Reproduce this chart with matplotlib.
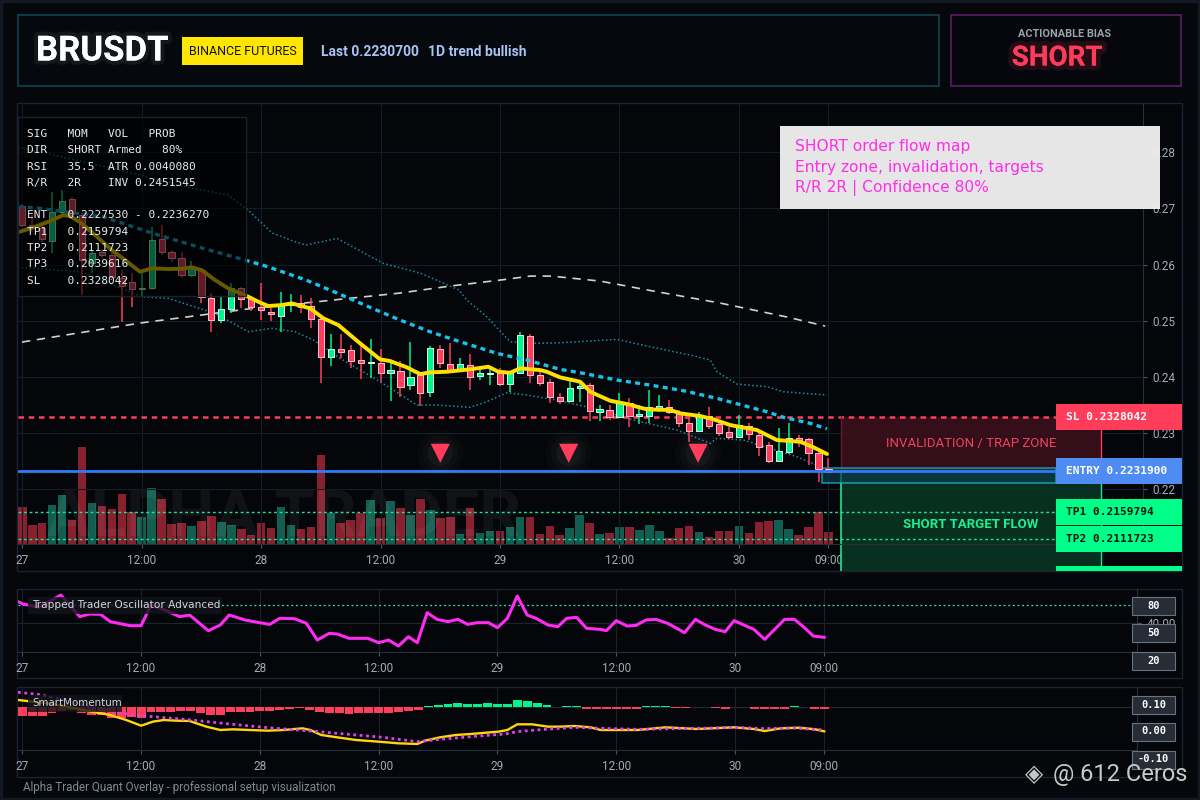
import matplotlib
matplotlib.use("Agg")
import matplotlib.pyplot as plt
import matplotlib.patheffects as pe
from matplotlib.patches import Rectangle
from matplotlib.transforms import Affine2D, blended_transform_factory

plt.rcParams['font.family'] = ['Roboto', 'DejaVu Sans']

# ---------------- data ----------------
hours = list(range(82))
opens = [0.27043, 0.26704, 0.26651, 0.26425, 0.26931, 0.27162, 0.26882, 0.26022, 0.26228, 0.26170,
         0.25760, 0.25683, 0.25558, 0.25576, 0.26449, 0.26218, 0.26111, 0.25813, 0.25902, 0.25398,
         0.25011, 0.25202, 0.25576, 0.25380, 0.25248, 0.25159, 0.25092, 0.25279, 0.25309, 0.25261,
         0.25024, 0.24347, 0.24489, 0.24477, 0.24299, 0.24240, 0.24251, 0.24062, 0.24108, 0.23853,
         0.24031, 0.23734, 0.24489, 0.24227, 0.24120, 0.24210, 0.24019, 0.24056, 0.24062, 0.23871,
         0.24072, 0.24726, 0.24031, 0.23901, 0.23645, 0.23573, 0.23794, 0.23853, 0.23377, 0.23408,
         0.23288, 0.23527, 0.23301, 0.23301, 0.23438, 0.23467, 0.23377, 0.23181, 0.23039, 0.23301,
         0.23153, 0.23010, 0.22932, 0.23128, 0.22962, 0.22784, 0.22504, 0.22665, 0.22903, 0.22886,
         0.22647, 0.22351]
highs = [0.27078, 0.26882, 0.26722, 0.27298, 0.27328, 0.27203, 0.26918, 0.26259, 0.26277, 0.26205,
         0.25902, 0.25849, 0.25854, 0.26674, 0.26704, 0.26259, 0.26228, 0.26063, 0.25938, 0.25487,
         0.25427, 0.25665, 0.25605, 0.25427, 0.25665, 0.25220, 0.25510, 0.25475, 0.25457, 0.25398,
         0.25047, 0.24762, 0.24762, 0.24566, 0.24566, 0.24667, 0.24495, 0.24268, 0.24286, 0.24625,
         0.24085, 0.24548, 0.24566, 0.24607, 0.24334, 0.24406, 0.24169, 0.24169, 0.24151, 0.24085,
         0.24803, 0.24762, 0.24138, 0.23960, 0.23705, 0.23942, 0.23942, 0.23889, 0.23497, 0.23497,
         0.23716, 0.23616, 0.23497, 0.23764, 0.23675, 0.23586, 0.23408, 0.23260, 0.23377, 0.23456,
         0.23230, 0.23099, 0.23319, 0.23171, 0.22998, 0.22843, 0.23082, 0.23171, 0.22962, 0.22914,
         0.22677, 0.22547]
lows = [0.26669, 0.26580, 0.26401, 0.26205, 0.26900, 0.26865, 0.25457, 0.25849, 0.26116, 0.25742,
        0.24976, 0.25248, 0.25427, 0.25555, 0.26170, 0.26045, 0.25760, 0.25778, 0.25309, 0.24803,
        0.24953, 0.25131, 0.25220, 0.25177, 0.25011, 0.24999, 0.24798, 0.25159, 0.25131, 0.24864,
        0.23883, 0.24192, 0.24329, 0.24151, 0.23955, 0.23973, 0.23912, 0.23573, 0.23634, 0.23764,
        0.23479, 0.23634, 0.24156, 0.24085, 0.24085, 0.23764, 0.23942, 0.23853, 0.23835, 0.23728,
        0.24049, 0.23894, 0.23835, 0.23538, 0.23515, 0.23550, 0.23556, 0.23217, 0.23217, 0.23230,
        0.23265, 0.23099, 0.23158, 0.23181, 0.23377, 0.23336, 0.23105, 0.22843, 0.23016, 0.23069,
        0.22944, 0.22886, 0.22909, 0.22873, 0.22588, 0.22458, 0.22481, 0.22624, 0.22754, 0.22428,
        0.22130, 0.22285]
closes = [0.26704, 0.26651, 0.26455, 0.26931, 0.27137, 0.26913, 0.26081, 0.26211, 0.26170, 0.25783,
          0.25617, 0.25558, 0.25576, 0.26432, 0.26218, 0.26111, 0.25808, 0.25933, 0.25416, 0.25011,
          0.25202, 0.25576, 0.25386, 0.25238, 0.25190, 0.25113, 0.25279, 0.25320, 0.25248, 0.25024,
          0.24347, 0.24489, 0.24447, 0.24286, 0.24240, 0.24268, 0.24062, 0.24120, 0.23823, 0.24001,
          0.23716, 0.24507, 0.24240, 0.24120, 0.24227, 0.24001, 0.24062, 0.24062, 0.23871, 0.24062,
          0.24744, 0.24031, 0.23894, 0.23634, 0.23573, 0.23794, 0.23835, 0.23395, 0.23420, 0.23288,
          0.23538, 0.23301, 0.23336, 0.23456, 0.23479, 0.23377, 0.23181, 0.23039, 0.23319, 0.23123,
          0.23003, 0.22932, 0.23140, 0.22980, 0.22754, 0.22504, 0.22677, 0.22903, 0.22873, 0.22647,
          0.22351, 0.22308]
volumes = [37, 19, 21, 39, 49, 24, 97, 41, 38, 35, 50, 32, 27, 56, 45, 20, 21, 18, 23, 28,
           22, 19, 15, 9, 21, 16, 37, 19, 15, 17, 89, 31, 21, 24, 31, 44, 26, 43, 36, 29,
           45, 34, 26, 27, 10, 36, 11, 13, 13, 17, 27, 27, 10, 18, 9, 16, 29, 21, 10, 11,
           17, 17, 14, 19, 13, 6, 16, 18, 12, 7, 13, 13, 18, 11, 22, 23, 24, 15, 9, 17,
           32, 12]

tick_hours = [0, 12, 24, 36, 48, 60, 72, 81]
tick_labels = ["27", "12:00", "28", "12:00", "29", "12:00", "30", "09:00"]
price_ticks = [0.22, 0.23, 0.24, 0.25, 0.26, 0.27, 0.28]

ema_h = [-0.46, 1.28, 2.61, 4.12, 4.79, 5.97, 7.31, 8.98, 10.32, 11.83, 13.0, 14.67, 16.02, 17.03,
         18.03, 19.37, 20.70, 22.71, 23.72, 24.72, 26.07, 27.08, 28.91, 30.25, 31.76, 33.94, 35.95,
         36.95, 38.63, 39.97, 40.97, 42.65, 44.99, 46.83, 47.84, 49.01, 50.02, 52.03, 52.70, 54.04,
         56.05, 57.06, 59.07, 60.74, 62.75, 65.10, 66.10, 68.11, 69.45, 71.13, 73.81, 75.82, 78.16,
         79.50, 80.85]
ema_p = [0.26574, 0.26674, 0.26763, 0.26882, 0.26865, 0.26735, 0.26526, 0.26259, 0.26081, 0.25872,
         0.25933, 0.25920, 0.25926, 0.25951, 0.25902, 0.25724, 0.25576, 0.25427, 0.25337, 0.25261,
         0.25279, 0.25309, 0.25220, 0.25042, 0.24922, 0.24596, 0.24311, 0.24281, 0.24169, 0.24049,
         0.24079, 0.24090, 0.24133, 0.24179, 0.24090, 0.24072, 0.24151, 0.24120, 0.24090, 0.23990,
         0.23912, 0.23734, 0.23573, 0.23515, 0.23420, 0.23408, 0.23349, 0.23301, 0.23242, 0.23140,
         0.23051, 0.22873, 0.22843, 0.22743, 0.22624]
mid_h = [-0.39, 1.58, 8.11, 13.14, 18.16, 22.38, 24.69, 28.51, 31.63, 34.94, 37.96, 40.97, 43.99,
         47.68, 50.69, 54.04, 56.38, 59.74, 63.09, 66.43, 69.79, 73.14, 74.81, 76.48, 79.16, 80.84]
mid_p = [0.27030, 0.27007, 0.26852, 0.26556, 0.26289, 0.26081, 0.25961, 0.25724, 0.25493, 0.25238,
         0.25011, 0.24803, 0.24625, 0.24418, 0.24299, 0.24133, 0.24062, 0.23942, 0.23853, 0.23752,
         0.23616, 0.23456, 0.23377, 0.23278, 0.23171, 0.23074]
upper_h = [-0.43, 9.82, 16.95, 20.67, 22.68, 25.10, 27.41, 28.51, 31.63, 36.25, 40.07, 43.89, 44.66,
           46.67, 49.01, 51.36, 54.04, 59.74, 63.09, 67.10, 69.12, 69.79, 71.80, 74.81, 76.48, 80.84]
upper_p = [0.28094, 0.27684, 0.27364, 0.27239, 0.26972, 0.26562, 0.26407, 0.26348, 0.26467, 0.26022,
           0.25844, 0.25546, 0.25368, 0.25070, 0.24625, 0.24596, 0.24607, 0.24667, 0.24536, 0.24388,
           0.24299, 0.24090, 0.23871, 0.23823, 0.23734, 0.23675]
lower_h = [-0.46, 5.97, 12.0, 14.67, 19.37, 22.71, 25.07, 27.41, 29.25, 31.93, 35.95, 37.29, 39.64,
           41.65, 44.99, 46.67, 48.68, 50.69, 52.70, 54.04, 58.06, 61.41, 65.77, 69.12, 69.79, 72.46,
           75.14, 77.83, 80.16]
lower_p = [0.25950, 0.25872, 0.25427, 0.25398, 0.25131, 0.24803, 0.24864, 0.24803, 0.24655, 0.24329,
           0.23912, 0.23764, 0.23497, 0.23497, 0.23456, 0.23556, 0.23716, 0.23675, 0.23616, 0.23573,
           0.23408, 0.23230, 0.23051, 0.22814, 0.22903, 0.22873, 0.22725, 0.22576, 0.22397]
slow_h = [-0.03, 11.83, 22.58, 31.22, 37.96, 42.98, 48.02, 51.03, 53.14, 58.06, 63.39, 70.12, 76.85, 80.67]
slow_p = [0.24619, 0.24958, 0.25207, 0.25368, 0.25493, 0.25617, 0.25724, 0.25795, 0.25795, 0.25706,
          0.25528, 0.25314, 0.25065, 0.24904]

signal_h = [42.0, 54.9, 67.9]
signal_p = [0.22636, 0.22636, 0.22636]

entry = 0.2231900
stop = 0.2328042
tp1 = 0.2159794
tp2 = 0.2111723
tp3 = 0.2039616
entry_lo, entry_hi = 0.22102, 0.22369

info_lines = ["SIG   MOM   VOL   PROB",
              "DIR   SHORT Armed   80%",
              "RSI   35.5  ATR 0.0040080",
              "R/R   2R    INV 0.2451545",
              "",
              "ENT   0.2227530 - 0.2236270",
              "TP1   0.2159794",
              "TP2   0.2111723",
              "TP3   0.2039616",
              "SL    0.2328042"]
note_lines = ["SHORT order flow map",
              "Entry zone, invalidation, targets",
              "R/R 2R | Confidence 80%"]

osc_h = [-0.43, 0.1, 1.7, 3.9, 5.8, 6.8, 7.9, 8.9, 10.9, 12.0, 13.0, 14.0, 15.9, 16.9, 18.8, 20.0,
         20.9, 22.5, 24.0, 25.0, 26.0, 27.5, 28.7, 29.8, 31.0, 31.8, 33.0, 34.9, 36.0, 37.0, 38.0,
         39.0, 39.9, 40.9, 41.9, 43.0, 44.0, 45.0, 45.9, 47.1, 48.0, 49.0, 50.0, 51.0, 51.9, 53.1,
         54.1, 55.0, 56.0, 57.0, 58.4, 59.0, 60.0, 61.1, 62.0, 63.0, 64.0, 65.2, 66.9, 68.0, 69.0,
         70.0, 71.0, 71.9, 73.9, 75.0, 76.0, 77.0, 78.0, 78.9, 79.9, 81.0]
osc_v = [87.4, 82.2, 74.8, 102.2, 54.1, 60.0, 59.3, 43.0, 34.1, 34.1, 80.0, 72.6, 54.1, 57.8, 22.9,
         35.6, 57.8, 46.7, 40.7, 37.0, 50.4, 49.6, 39.3, 2.2, 17.0, 15.6, 6.0, 6.0, -3.7, 2.2, -11.1,
         9.6, -3.7, 63.0, 48.1, 43.0, 48.1, 37.0, 40.7, 40.7, 29.6, 50.4, 100.0, 57.8, 50.4, 35.6,
         31.9, 50.4, 52.6, 28.1, 25.9, 23.0, 45.2, 33.3, 34.8, 46.7, 48.1, 39.3, 18.5, 48.1, 35.6,
         25.9, 20.7, 45.2, 25.9, 3.7, 25.9, 48.1, 48.1, 31.9, 11.1, 8.2]

mom_hist = [-0.0315, -0.0315, -0.0315, -0.023, -0.0133, -0.011, -0.023, -0.029, -0.029, -0.041,
            -0.041, -0.035, -0.041, -0.017, -0.017, -0.017, -0.0133, -0.0133, -0.0206, -0.029,
            -0.029, -0.017, -0.017, -0.017, -0.0145, -0.0133, -0.011, -0.0073, -0.0036, -0.011,
            -0.0194, -0.023, -0.023, -0.0255, -0.0206, -0.0206, -0.0206, -0.0206, -0.018, -0.0158,
            -0.011, 0.0036, 0.0073, 0.011, 0.0158, 0.011, 0.011, 0.0158, 0.011, 0.011,
            0.0255, 0.0218, 0.0158, 0.0073, 0.0012, 0.0036, 0.0036, -0.0073, -0.0073, -0.0073,
            -0.0073, -0.0073, -0.0061, 0.0024, 0.0036, 0.0036, -0.0024, -0.0024, 0.0012, 0.0012,
            -0.0024, -0.0073, 0.0012, 0.0012, -0.0061, -0.0085, -0.0085, -0.0073, 0.0024, 0.0012,
            -0.0061, -0.0085]
mom_fast_h = [-0.43, 3.1, 7.0, 8.9, 10.5, 12.0, 13.2, 14.3, 15.5, 16.9, 18.6, 20.0, 21.3, 22.9, 24.8,
              26.4, 28.3, 29.1, 30.2, 31.8, 33.7, 36.0, 38.0, 39.9, 40.7, 42.2, 43.8, 45.3, 46.9,
              48.1, 49.0, 50.0, 51.5, 53.1, 54.3, 55.8, 57.4, 58.4, 60.3, 62.2, 65.0, 68.1, 71.9,
              73.9, 75.0, 76.6, 78.5, 80.1, 81.0]
mom_fast_v = [0.0255, 0.0109, -0.017, -0.0291, -0.0473, -0.0679, -0.0533, -0.0473, -0.0497, -0.0509,
              -0.0715, -0.0836, -0.0812, -0.0836, -0.0861, -0.0836, -0.0776, -0.0836, -0.1018, -0.1103,
              -0.12, -0.1261, -0.1321, -0.1345, -0.1224, -0.1103, -0.1018, -0.0982, -0.0933, -0.0897,
              -0.0836, -0.063, -0.063, -0.0715, -0.0715, -0.0691, -0.0739, -0.0836, -0.0836, -0.0836,
              -0.0739, -0.08, -0.0739, -0.08, -0.0873, -0.0776, -0.0752, -0.0812, -0.0885]
mom_slow_h = [-0.43, 1.55, 3.5, 7.4, 11.2, 13.2, 17.1, 20.9, 24.8, 28.7, 32.6, 36.4, 39.9, 42.2,
              46.1, 48.8, 50.0, 51.9, 55.8, 58.4, 62.2, 66.1, 70.0, 71.9, 75.0, 77.8, 81.0]
mom_slow_v = [0.0533, 0.0461, 0.0315, -0.0048, -0.0291, -0.0352, -0.0473, -0.0618, -0.0752, -0.0861,
              -0.0982, -0.1103, -0.1261, -0.1176, -0.1055, -0.0982, -0.0897, -0.0836, -0.0739, -0.0776,
              -0.0812, -0.0788, -0.0764, -0.0739, -0.0788, -0.0764, -0.0836]

# ---------------- style ----------------
BG = "#05070b"
PANEL = "#04060a"
BORDER = "#1a2430"
GRID = "#131d27"
TICK = "#a2abb5"
UP = "#00f58c"
DOWN = "#ff3d5c"
MONO = "DejaVu Sans Mono"
XLIM = (-0.43, 112.6)
YLIM = (0.2102, 0.2888)

W, H = 1200, 800
fig = plt.figure(figsize=(12, 8), dpi=100, facecolor=BG)
PX = Affine2D().scale(1.0 / W, -1.0 / H).translate(0, 1) + fig.transFigure


def frac(x0, y0, x1, y1):
    return [x0 / W, 1 - y1 / H, (x1 - x0) / W, (y1 - y0) / H]


def box(x0, y0, x1, y1, **kw):
    r = Rectangle((x0, y0), x1 - x0, y1 - y0, transform=PX, **kw)
    fig.add_artist(r)
    return r


def ftext(x, y, s, **kw):
    kw.setdefault("va", "center")
    kw.setdefault("zorder", 12)
    return fig.text(x, y, s, transform=PX, **kw)


# panels
box(18, 15, 939, 86, facecolor="#05080c", edgecolor="#0f4453", lw=1.2, zorder=0)
box(951, 15, 1181, 86, facecolor="#05070c", edgecolor="#5a1d66", lw=1.2, zorder=0)
box(17, 103, 1182, 571, facecolor=PANEL, edgecolor=BORDER, lw=1, zorder=0)
box(17, 589, 1182, 678, facecolor=PANEL, edgecolor=BORDER, lw=1, zorder=0)
box(17, 687, 1182, 777, facecolor=PANEL, edgecolor=BORDER, lw=1, zorder=0)
box(1, 1, 1199, 799, facecolor="none", edgecolor="#121922", lw=2.5, zorder=20)
panel_clip = Rectangle((17, 103), 1165, 468, transform=PX)

# header
ftext(36, 51, "BRUSDT", color="white", fontsize=25, fontweight="bold",
      path_effects=[pe.withStroke(linewidth=6, foreground=(1, 1, 1, 0.06))])
box(182, 37, 303, 65, facecolor="#ffe600", edgecolor="none", zorder=11)
ftext(242.5, 51.5, "BINANCE FUTURES", color="#111111", fontsize=9, ha="center")
ftext(321, 52, "Last 0.2230700", color="#a9c3f3", fontsize=10, fontweight="bold")
ftext(427.5, 52, "1D trend bullish", color="#a9c3f3", fontsize=10, fontweight="bold")
ftext(1065, 34, "ACTIONABLE BIAS", color="#9ba4ae", fontsize=7.8, fontweight="bold", ha="center")
ftext(1057, 58, "SHORT", color="#ff3b5c", fontsize=20, fontweight="bold", ha="center",
      path_effects=[pe.withStroke(linewidth=7, foreground=(1, 0.2, 0.35, 0.12))])

# ---------------- main price panel ----------------
ax_vol = fig.add_axes(frac(18, 103, 1143, 544), zorder=1)
ax = fig.add_axes(frac(18, 103, 1143, 544), zorder=2)
for a in (ax, ax_vol):
    a.set_facecolor("none")
    a.set_xlim(*XLIM)

colors = [UP if c >= o else DOWN for o, c in zip(opens, closes)]
vol_colors = ["#125e50" if c == UP else "#88212f" for c in colors]
ax_vol.bar(hours, volumes, width=0.86, color=vol_colors, zorder=1)
ax_vol.set_ylim(0, 441)
ax_vol.axis("off")
ax_vol.text(284, 518, "ALPHA TRADER", transform=PX, ha="center", va="center", fontsize=47,
            fontweight="bold", color="white", alpha=0.05, zorder=3)

ax.set_ylim(*YLIM)
ax.set_axisbelow(True)
ax.grid(True, color=GRID, lw=0.8)
ax.set_xticks(tick_hours, tick_labels)
ax.set_yticks(price_ticks, [f"{p:.2f}" for p in price_ticks])
ax.yaxis.tick_right()
for s in ("top", "left"):
    ax.spines[s].set_visible(False)
for s in ("right", "bottom"):
    ax.spines[s].set_color("#27313c")
ax.tick_params(axis="both", colors="#4a5561", labelcolor=TICK, labelsize=8.5, length=3, pad=4)

ax.plot(upper_h, upper_p, color="#1d8aa6", lw=1.1, ls=(0, (1, 1.6)), zorder=1.5)
ax.plot(lower_h, lower_p, color="#1d8aa6", lw=1.1, ls=(0, (1, 1.6)), zorder=1.5)
ax.plot(slow_h, slow_p, color="#d2d2d2", lw=1.2, ls=(0, (5, 4)), zorder=1.6)
ax.axhline(stop, color="#ff3d5a", lw=1.8, ls=(0, (2.2, 1.9)), zorder=1.8)
ax.axhline(tp1, color="#1ee39a", lw=1, ls=(0, (2, 2)), zorder=1.8)
ax.axhline(tp2, color="#1ee39a", lw=1, ls=(0, (2, 2)), zorder=1.8)

# zones
zx0, zx1 = 82.3, 108.4
red_zone = Rectangle((zx0, entry), zx1 - zx0, stop - entry, facecolor="#3a0f1b", alpha=0.9,
                     edgecolor="none", zorder=1.7)
green_zone = Rectangle((zx0, tp3), zx1 - zx0, entry - tp3, facecolor="#093524", alpha=0.9,
                       edgecolor="none", zorder=1.7)
entry_box = Rectangle((80.35, entry_lo), 103.9 - 80.35, entry_hi - entry_lo, facecolor="#0b3a48",
                      alpha=0.7, edgecolor="#22c4e6", lw=1.1, zorder=2.2)
for p in (red_zone, green_zone, entry_box):
    ax.add_patch(p)
    p.set_clip_path(panel_clip)
edge_lines = [
    ax.plot([zx0, zx0], [entry, stop], color="#6b1c2c", lw=1, zorder=1.9)[0],
    ax.plot([zx0, zx0], [tp3, entry], color="#19e890", lw=1.2, zorder=1.9)[0],
    ax.plot([zx1, zx1], [entry, stop], color="#ff3d5a", lw=1, zorder=1.9)[0],
    ax.plot([zx1, zx1], [tp3, entry], color="#19e890", lw=1, zorder=1.9)[0],
]
for ln in edge_lines:
    ln.set_clip_path(panel_clip)
ax.text(95.3, 0.22820, "INVALIDATION / TRAP ZONE", ha="center", va="center", color="#ee4460",
        fontsize=9.5, zorder=6)
ax.text(95.3, 0.21376, "SHORT TARGET FLOW", ha="center", va="center", color="#19f08f",
        fontsize=9.5, fontweight="bold", zorder=6, clip_on=False)

# candles
bottoms = [min(o, c) for o, c in zip(opens, closes)]
heights = [max(abs(c - o), 0.00012) for o, c in zip(opens, closes)]
edges = ["#d9ffee" if c == UP else "#ffc2cc" for c in colors]
ax.vlines(hours, lows, highs, colors=colors, lw=1.1, zorder=2.6)
ax.bar(hours, heights, bottom=bottoms, width=0.62, color=colors, edgecolor=edges,
       linewidth=0.7, zorder=2.7)

ax.plot(mid_h, mid_p, color="#18c2ea", lw=2.4, ls=(0, (1.5, 1.3)), zorder=4)
ax.plot(ema_h, ema_p, color="#ffe000", lw=2.8, solid_capstyle="round", zorder=5)
ax.axhline(entry, color="#2f7df6", lw=2, zorder=4.5)

for s, a in ((1100, 0.018), (650, 0.025), (330, 0.035)):
    ax.scatter(signal_h, signal_p, s=s, color="white", alpha=a, edgecolors="none", zorder=5.5)
ax.scatter(signal_h, signal_p, s=190, marker="v", color="#ff3d5a", edgecolors="none", zorder=6)

# right-side price tags
LBL = blended_transform_factory(PX, ax.transData)
half = 13 * (YLIM[1] - YLIM[0]) / 441
tags = [("SL 0.2328042", stop, "#ff3d5a", "white"),
        ("ENTRY 0.2231900", entry, "#4e8cf4", "white"),
        ("TP1 0.2159794", tp1, "#00ff88", "#06140d"),
        ("TP2 0.2111723", tp2, "#00ff88", "#06140d"),
        ("TP3 0.2039616", tp3, "#00ff88", "#06140d")]
for label, price, fc, tc in tags:
    r = Rectangle((1056, price - half), 126, 2 * half, transform=LBL, facecolor=fc,
                  edgecolor="none", zorder=7)
    ax.add_artist(r)
    r.set_clip_path(panel_clip)
    if price > YLIM[0]:
        ax.text(1066, price, label, transform=LBL, va="center", ha="left", color=tc,
                fontsize=8, family=MONO, fontweight="bold", zorder=8)

# info box + note box
box(18, 117, 246, 296, facecolor=(0, 0, 0, 0.6), edgecolor="#1a2129", lw=1, zorder=10)
for i, line in enumerate(info_lines):
    ftext(27, 134 + i * 16.3, line, color="#ececec", fontsize=8, family=MONO)
box(780, 126, 1160, 209, facecolor="#efefef", alpha=0.97, edgecolor="none", zorder=10)
for i, line in enumerate(note_lines):
    ftext(795, 147 + i * 20.5, line, color="#ff2ee8", fontsize=11.2, family="DejaVu Sans")

# ---------------- oscillator + momentum panels ----------------
ax_osc = fig.add_axes(frac(18, 589, 1137, 652), zorder=2)
ax_mom = fig.add_axes(frac(18, 687, 1137, 750), zorder=2)
for a in (ax_osc, ax_mom):
    a.set_facecolor("none")
    a.set_xlim(*XLIM)
    a.set_xticks(tick_hours, tick_labels)
    a.grid(True, axis="x", color="#17222d", lw=0.8)
    a.set_axisbelow(True)
    a.yaxis.tick_right()
    for s in ("top", "left"):
        a.spines[s].set_visible(False)
    for s in ("right", "bottom"):
        a.spines[s].set_color("#27313c")
    a.tick_params(axis="both", colors="#4a5561", labelcolor=TICK, labelsize=8.5, length=3, pad=4)

ax_osc.set_ylim(-24.4, 115.6)
ax_osc.set_yticks([40], ["40.00"])
ax_osc.axhline(40, color="#1a2530", lw=0.8, zorder=0)
ax_osc.axhline(80, color="#3be3b2", lw=0.9, ls=(0, (1.5, 2.2)), zorder=1)
ax_osc.plot(osc_h, osc_v, color="#ff2bf0", lw=2.2, zorder=3)

ax_mom.set_ylim(-0.1564, 0.0727)
ax_mom.set_yticks([])
ax_mom.axhline(0, color="#222a33", lw=0.8, zorder=0)
ax_mom.bar(hours, mom_hist, width=0.9, color=[UP if v > 0 else DOWN for v in mom_hist], zorder=2)
ax_mom.plot(mom_fast_h, mom_fast_v, color="#ffd60a", lw=1.7, zorder=3)
ax_mom.plot(mom_slow_h, mom_slow_v, color="#e040fb", lw=2, ls=(0, (1, 1.3)), zorder=3)

box(28, 597, 222, 614, facecolor=(0.07, 0.08, 0.1, 0.8), edgecolor="none", zorder=10)
ftext(32, 605.5, "Trapped Trader Oscillator Advanced", color="#d4d8dc", fontsize=7.6,
      family="DejaVu Sans")
box(28, 695, 122, 712, facecolor=(0.07, 0.08, 0.1, 0.8), edgecolor="none", zorder=10)
ftext(32, 703.5, "SmartMomentum", color="#d4d8dc", fontsize=7.4, family="DejaVu Sans")

for label, yc in (("80", 606), ("50", 633), ("20", 661),
                  ("0.10", 704.5), ("0.00", 731.5), ("-0.10", 759.5)):
    box(1132, yc - 9, 1175, yc + 9, facecolor="#262d36", edgecolor="#69737e", lw=0.8, zorder=11)
    ftext(1153.5, yc, label, color="white", fontsize=7.5, family=MONO, fontweight="bold",
          ha="center")

# footer
ftext(23, 787, "Alpha Trader Quant Overlay - professional setup visualization", color="#7d8995",
      fontsize=8.4)
ftext(1034, 774, "◈", color="#c4c4c4", fontsize=17, ha="center", family="DejaVu Sans")
ftext(1053, 774, "@ 612 Ceros", color="#c9c9c9", fontsize=17)

fig.savefig("out.png", dpi=100, facecolor=BG)
